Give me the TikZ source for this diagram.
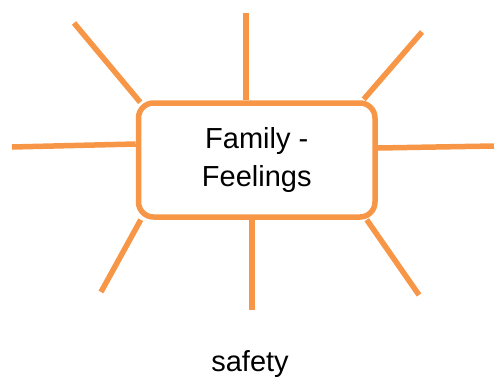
\documentclass[tikz,border=0pt]{standalone}
\usepackage{fontspec}
\setmainfont{Liberation Sans}
\usetikzlibrary{calc}
\definecolor{ray}{HTML}{F79646}
\begin{document}
\begin{tikzpicture}[x=1pt,y=-1pt,
  raystyle/.style={draw=ray,line width=5.5pt},
  hub/.style={draw=ray,line width=5.5pt,rounded corners=15pt,fill=white,
    minimum width=236.5pt,minimum height=114pt,inner sep=0pt,align=center,
    font=\fontsize{29}{38}\selectfont},
  lbl/.style={font=\fontsize{29}{34}\selectfont,inner sep=0pt,anchor=base}]
\useasboundingbox (0,0) rectangle (494,378);
\node[hub] (box) at (256.75,160) {Family -\\Feelings};
\coordinate (tl) at (74,23);
\coordinate (t) at (246,13);
\coordinate (tr) at (422,32);
\coordinate (l) at (12,147);
\coordinate (r) at (494,146);
\coordinate (bl) at (101,292);
\coordinate (b) at (252,310);
\coordinate (br) at (419,295);
\draw[raystyle] (tl) -- ($(box.north west)+(4.5,2)$);
\draw[raystyle] (t) -- ($(box.north)+(-10.75,0)$);
\draw[raystyle] (tr) -- ($(box.north east)+(-14,-1)$);
\draw[raystyle] (l) -- ($(box.west)+(0,-16)$);
\draw[raystyle] (r) -- ($(box.east)+(0,-12)$);
\draw[raystyle] (bl) -- ($(box.south west)+(5,0)$);
\draw[raystyle] (b) -- ($(box.south)+(-4.75,0)$);
\draw[raystyle] (br) -- ($(box.south east)+(-11,0)$);
\node[lbl] (safety) at (250,371) {safety};
\end{tikzpicture}
\end{document}
